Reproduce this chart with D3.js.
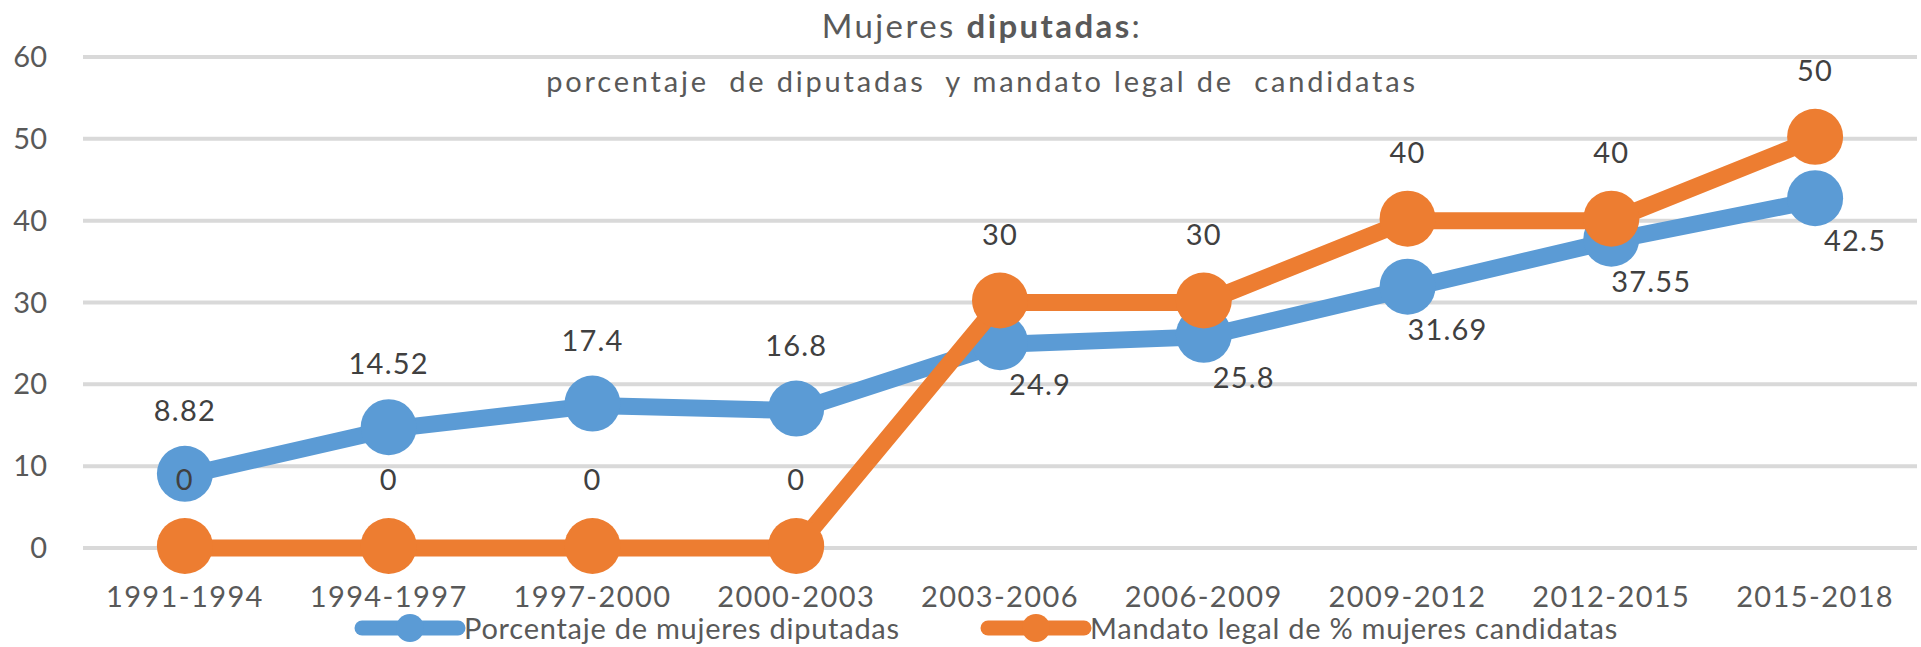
<!DOCTYPE html>
<html>
<head>
<meta charset="utf-8">
<title>Mujeres diputadas</title>
<script src="https://d3js.org/d3.v7.min.js"></script>
<style>
  body { margin: 0; background: #fff; }
  svg text { font-family: Lato, "Open Sans", sans-serif; }
</style>
</head>
<body>
<svg id="chart" width="1921" height="647"></svg>
<script>
// data
var periods = ["1991-1994", "1994-1997", "1997-2000", "2000-2003", "2003-2006",
               "2006-2009", "2009-2012", "2012-2015", "2015-2018"];
var diputadas = [8.82, 14.52, 17.4, 16.8, 24.9, 25.8, 31.69, 37.55, 42.5];
var mandato = [0, 0, 0, 0, 30, 30, 40, 40, 50];
var yTicks = [0, 10, 20, 30, 40, 50, 60];
var seriesNames = ["Porcentaje de mujeres diputadas", "Mandato legal de % mujeres candidatas"];

var blue = "#5b9bd5", orange = "#ed7d31";

var svg = d3.select("#chart");

var x = d3.scalePoint().domain(periods).range([83, 1917]).padding(0.5);
var y = d3.scaleLinear().domain([0, 60]).range([548, 57]);

// gridlines
svg.append("g")
  .selectAll("line")
  .data(yTicks)
  .enter().append("line")
    .attr("x1", 83).attr("x2", 1917)
    .attr("y1", d => y(d)).attr("y2", d => y(d))
    .attr("stroke", "#d9d9d9").attr("stroke-width", 4);

// y labels
svg.append("g")
  .selectAll("text")
  .data(yTicks)
  .enter().append("text")
    .attr("x", 47).attr("y", d => y(d) + 10)
    .attr("text-anchor", "end")
    .attr("font-size", 29).attr("fill", "#595959")
    .text(d => d);

// x labels
svg.append("g")
  .selectAll("text")
  .data(periods)
  .enter().append("text")
    .attr("x", d => x(d)).attr("y", 607)
    .attr("text-anchor", "middle")
    .attr("font-size", 29).attr("letter-spacing", 1.4).attr("fill", "#595959")
    .text(d => d);

// title
var title = svg.append("text")
  .attr("x", 982).attr("y", 38)
  .attr("text-anchor", "middle")
  .attr("font-size", 33).attr("letter-spacing", 2.4).attr("fill", "#595959");
title.append("tspan").text("Mujeres ");
title.append("tspan").attr("font-weight", "bold").text("diputadas");
title.append("tspan").text(":");

svg.append("text")
  .attr("x", 982).attr("y", 92)
  .attr("text-anchor", "middle")
  .attr("font-size", 29).attr("letter-spacing", 2.8).attr("fill", "#595959")
  .attr("xml:space", "preserve")
  .text("porcentaje  de diputadas  y mandato legal de  candidatas");

function drawSeries(values, color) {
  var line = d3.line()
    .x((d, i) => x(periods[i]))
    .y(d => y(d));
  svg.append("path")
    .datum(values)
    .attr("d", line)
    .attr("fill", "none")
    .attr("stroke", color)
    .attr("stroke-width", 17)
    .attr("stroke-linejoin", "round");
  svg.append("g")
    .selectAll("circle")
    .data(values)
    .enter().append("circle")
      .attr("cx", (d, i) => x(periods[i]))
      .attr("cy", d => y(d) - 2)
      .attr("r", 28)
      .attr("fill", color);
}

drawSeries(diputadas, blue);
drawSeries(mandato, orange);

// data labels
svg.append("g")
  .selectAll("text")
  .data(diputadas)
  .enter().append("text")
    .attr("x", (d, i) => x(periods[i]) + (i < 4 ? 0 : 40))
    .attr("y", (d, i) => y(d) + (i < 4 ? -55 : 51))
    .attr("text-anchor", "middle")
    .attr("font-size", 29).attr("letter-spacing", 1.2).attr("fill", "#404040")
    .text(d => d);

svg.append("g")
  .selectAll("text")
  .data(mandato)
  .enter().append("text")
    .attr("x", (d, i) => x(periods[i]))
    .attr("y", d => y(d) - 58)
    .attr("text-anchor", "middle")
    .attr("font-size", 29).attr("letter-spacing", 1.2).attr("fill", "#404040")
    .text(d => d);

// legend
var legend = svg.append("g");
var legendItems = [
  {name: seriesNames[0], color: blue, x0: 362},
  {name: seriesNames[1], color: orange, x0: 988}
];
legendItems.forEach(function (item) {
  legend.append("line")
    .attr("x1", item.x0).attr("x2", item.x0 + 96)
    .attr("y1", 628).attr("y2", 628)
    .attr("stroke", item.color).attr("stroke-width", 15)
    .attr("stroke-linecap", "round");
  legend.append("circle")
    .attr("cx", item.x0 + 48).attr("cy", 628).attr("r", 14)
    .attr("fill", item.color);
  legend.append("text")
    .attr("x", item.x0 + 102).attr("y", 639)
    .attr("font-size", 29).attr("letter-spacing", 0.75).attr("fill", "#595959")
    .text(item.name);
});
</script>
</body>
</html>
